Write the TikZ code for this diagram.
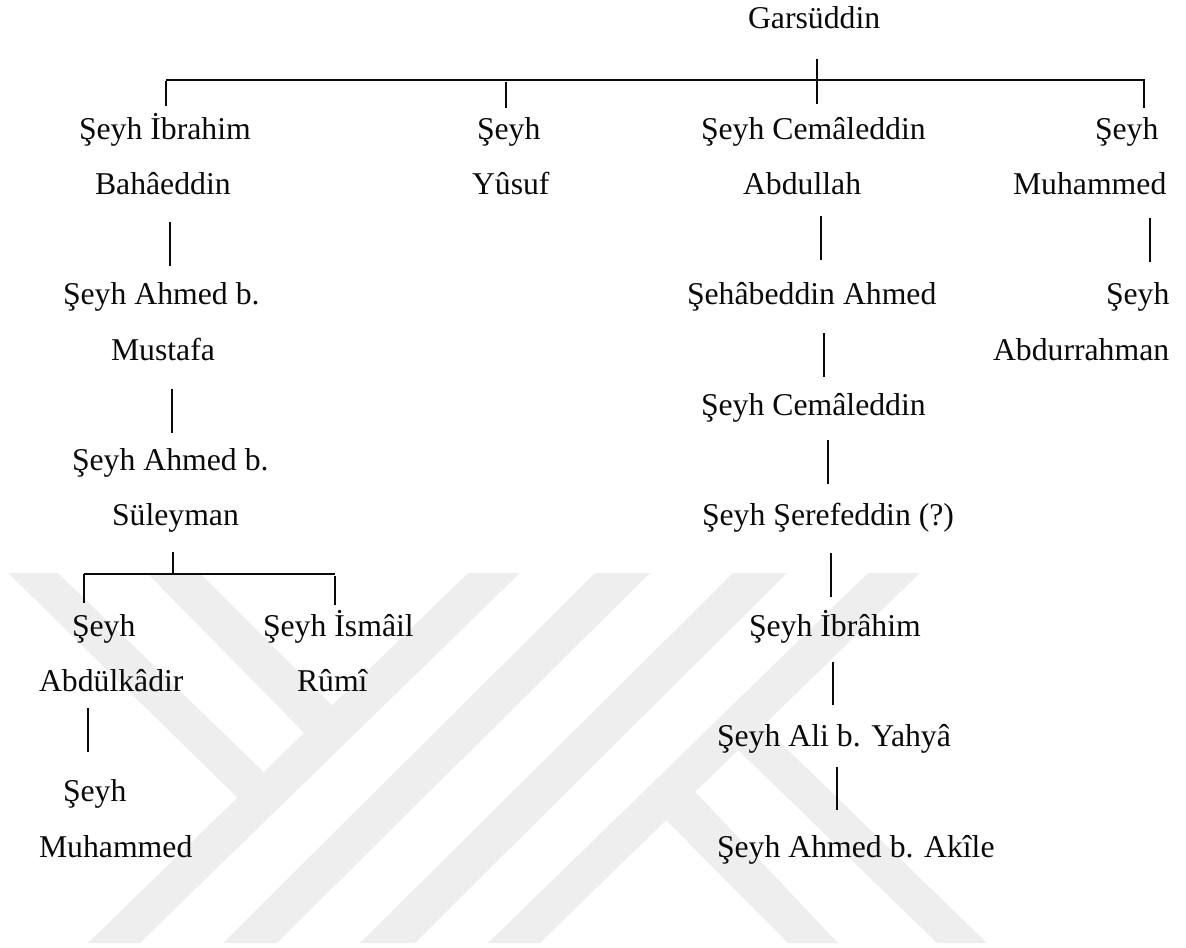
\documentclass[tikz,border=0pt]{standalone}
\usepackage{fontspec}
\setmainfont{Liberation Serif}
\definecolor{wm}{HTML}{EEEEEE}
\definecolor{ink}{HTML}{0A0A0A}
\tikzset{
  person/.style={anchor=base west,inner sep=0pt,outer sep=0pt,text=ink,font=\fontsize{23.8pt}{28pt}\selectfont},
  stem/.style={draw=ink,line width=1.1pt},
  bar/.style={draw=ink,line width=1.35pt},
  mark band/.style={fill=wm,draw=none}
}
\begin{document}
\begin{tikzpicture}[x=0.75pt,y=-0.75pt]
\useasboundingbox (0,0) rectangle (1186,947);
% watermark
\fill[mark band] (468,573) -- (520,573) -- (140,943) -- (88,943) -- cycle;
\fill[mark band] (8,573) -- (58,573) -- (272,780) -- (250,810) -- cycle;
\fill[mark band] (147,573) -- (200,573) -- (342,715) -- (313,742) -- cycle;
\fill[mark band] (595,573) -- (650,573) -- (277,943) -- (223,943) -- cycle;
\fill[mark band] (733,573) -- (787,573) -- (415,943) -- (360,943) -- cycle;
\fill[mark band] (868,573) -- (920,573) -- (540,943) -- (488,943) -- cycle;
\fill[mark band] (655,809) -- (685,781) -- (838,943) -- (788,943) -- cycle;
\fill[mark band] (730,742) -- (753,716) -- (987,943) -- (937,943) -- cycle;
% people
\node[person] (garsuddin) at (748,28) {Garsüddin};
\node[person] (ibrahimA) at (79,139) {Şeyh İbrahim};
\node[person] (bahaeddin) at (95,194) {Bahâeddin};
\node[person] (ahmedA) at (63,304) {Şeyh Ahmed b.};
\node[person] (mustafa) at (111,360) {Mustafa};
\node[person] (ahmedB) at (72,470) {Şeyh Ahmed b.};
\node[person] (suleyman) at (112,525) {Süleyman};
\node[person] (seyhC) at (72,636) {Şeyh};
\node[person] (abdulkadir) at (39,691) {Abdülkâdir};
\node[person] (seyhD) at (63,801) {Şeyh};
\node[person] (muhammedA) at (39,857) {Muhammed};
\node[person] (ismail) at (263,636) {Şeyh İsmâil};
\node[person] (rumi) at (297,691) {Rûmî};
\node[person] (seyhY) at (477,139) {Şeyh};
\node[person] (yusuf) at (472,194) {Yûsuf};
\node[person] (cemaleddinA) at (701,139) {Şeyh Cemâleddin};
\node[person] (abdullah) at (743,194) {Abdullah};
\node[person] (sehabeddin) at (687,304) {Şehâbeddin Ahmed};
\node[person] (cemaleddinB) at (701,415) {Şeyh Cemâleddin};
\node[person] (serefeddin) at (702,525) {Şeyh Şerefeddin (?)};
\node[person] (ibrahimB) at (749,636) {Şeyh İbrâhim};
\node[person] (ali) at (717,746) {Şeyh Ali b. Yahyâ};
\node[person] (akile) at (717,857) {Şeyh Ahmed b. Akîle};
\node[person] (seyhM) at (1095,139) {Şeyh};
\node[person] (muhammedB) at (1013,194) {Muhammed};
\node[person] (seyhR) at (1106,304) {Şeyh};
\node[person] (abdurrahman) at (993,360) {Abdurrahman};
% connector ends
\coordinate (barL) at (166,80);
\coordinate (barR) at (1144.5,80);
\coordinate (rootT) at (817,59);
\coordinate (rootB) at (817,104);
\coordinate (ibrT) at (166,81);
\coordinate (ibrB) at (166,106);
\coordinate (yusT) at (506,82);
\coordinate (yusB) at (506,108);
\coordinate (muhT) at (1144,81);
\coordinate (muhB) at (1144,108);
\coordinate (bahB) at (170,222);
\coordinate (ahmT) at (170,266);
\coordinate (musB) at (172,389);
\coordinate (ahbT) at (172,433);
\coordinate (sulT) at (173,552);
\coordinate (sulB) at (173,574);
\coordinate (subL) at (84,574);
\coordinate (subR) at (335,574);
\coordinate (abkT) at (84,574);
\coordinate (abkB) at (84,603);
\coordinate (ismT) at (335,576);
\coordinate (ismB) at (335,605);
\coordinate (abkS) at (88,708);
\coordinate (shdT) at (88,752);
\coordinate (abdB) at (821,216);
\coordinate (sehT) at (821,260);
\coordinate (sehB) at (824,333);
\coordinate (cemT) at (824,377);
\coordinate (cemB) at (828,440);
\coordinate (serT) at (828,484);
\coordinate (serB) at (831,553);
\coordinate (ibbT) at (831,597);
\coordinate (ibbB) at (833,662);
\coordinate (aliT) at (833,705);
\coordinate (aliB) at (837,767);
\coordinate (akiT) at (837,810);
\coordinate (mhdB) at (1150,218);
\coordinate (shrT) at (1150,262);
% connectors
\draw[bar] (barL) -- (barR);
\draw[stem] (rootT) -- (rootB);
\draw[stem] (ibrT) -- (ibrB);
\draw[stem] (yusT) -- (yusB);
\draw[stem] (muhT) -- (muhB);
\draw[stem] (bahB) -- (ahmT);
\draw[stem] (musB) -- (ahbT);
\draw[stem] (sulT) -- (sulB);
\draw[bar] (subL) -- (subR);
\draw[stem] (abkT) -- (abkB);
\draw[stem] (ismT) -- (ismB);
\draw[stem] (abkS) -- (shdT);
\draw[stem] (abdB) -- (sehT);
\draw[stem] (sehB) -- (cemT);
\draw[stem] (cemB) -- (serT);
\draw[stem] (serB) -- (ibbT);
\draw[stem] (ibbB) -- (aliT);
\draw[stem] (aliB) -- (akiT);
\draw[stem] (mhdB) -- (shrT);
\end{tikzpicture}
\end{document}
